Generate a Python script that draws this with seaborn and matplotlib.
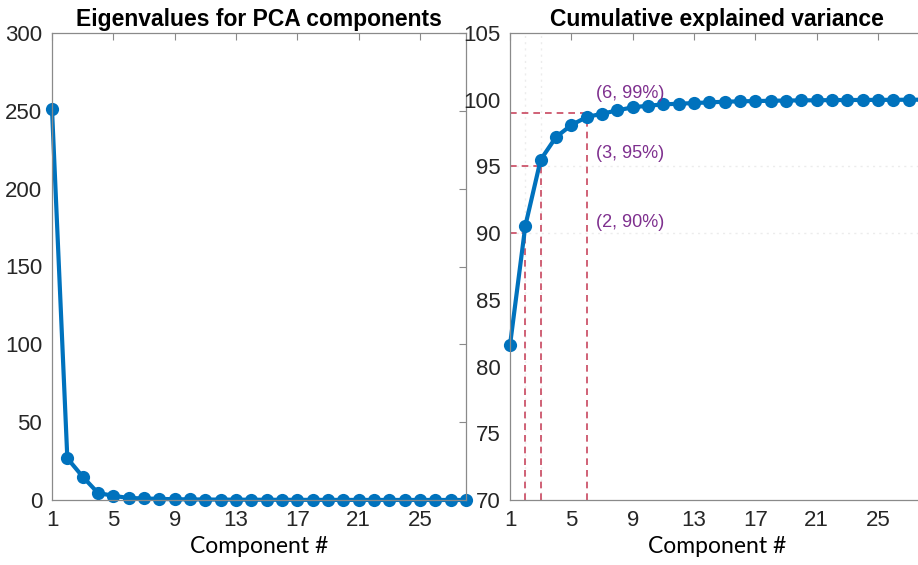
import numpy as np
import pandas as pd
import matplotlib
matplotlib.use("Agg")
import matplotlib.pyplot as plt
import seaborn as sns

# PCA results per component
components = list(range(1, 29))
eigenvalues = [251.2, 26.8, 15.0, 4.5, 2.7, 1.3, 1.0, 0.7, 0.5, 0.4,
               0.3, 0.25, 0.2, 0.17, 0.14, 0.12, 0.1, 0.08, 0.07, 0.06,
               0.05, 0.04, 0.03, 0.03, 0.02, 0.02, 0.01, 0.01]
cumulative = [81.6, 90.55, 95.5, 97.2, 98.1, 98.7, 98.95, 99.2, 99.43, 99.55,
              99.65, 99.7, 99.75, 99.8, 99.85, 99.88, 99.9, 99.92, 99.94, 99.95,
              99.96, 99.97, 99.98, 99.98, 99.99, 99.99, 100.0, 100.0]

# variance thresholds and the component where each is reached
thresholds = [90, 95, 99]
threshold_components = [2, 3, 6]
threshold_labels = ["(2, 90%)", "(3, 95%)", "(6, 99%)"]
label_y = [90.8, 96.0, 100.5]

xticks = [1, 5, 9, 13, 17, 21, 25]

df = pd.DataFrame({"component": components,
                   "eigenvalue": eigenvalues,
                   "cumulative": cumulative})

sns.set_theme(style="white")
plt.rcParams["font.family"] = ["Liberation Sans", "DejaVu Sans"]

BLUE = "#0072BD"
RED = "#C8475F"
PURPLE = "#7E2F8E"
SPINE = "#8a8a8a"
TXT = "#262626"

fig = plt.figure(figsize=(9.18, 5.65), dpi=100)
ax1 = fig.add_axes([52 / 918, 65 / 565, 414 / 918, 467 / 565])
ax2 = fig.add_axes([510 / 918, 65 / 565, 414 / 918, 467 / 565])

line_kw = dict(color=BLUE, linewidth=3.0, marker="o", markersize=9.5,
               markeredgewidth=0, markerfacecolor=BLUE)

sns.lineplot(data=df, x="component", y="eigenvalue", ax=ax1, **line_kw)
sns.lineplot(data=df, x="component", y="cumulative", ax=ax2, **line_kw)

ax1.set_xlim(1, 28)
ax1.set_ylim(0, 300)
ax1.set_yticks(np.arange(0, 301, 50))
ax2.set_xlim(1, 28)
ax2.set_ylim(70, 105)
ax2.set_yticks(np.arange(70, 106, 5))

# faint guide lines
for v in [90, 95]:
    ax2.axhline(v, color="#ececec", linestyle=(0, (1.5, 3)), linewidth=1.0, zorder=0)
for c in [2, 3]:
    ax2.axvline(c, color="#ececec", linestyle=(0, (1.5, 3)), linewidth=1.0, zorder=0)

# threshold markers
for thr, comp in zip(thresholds, threshold_components):
    ax2.plot([1, comp], [thr, thr], color=RED, linestyle=(0, (4, 3)), linewidth=1.2, zorder=1)
    ax2.plot([comp, comp], [70, thr], color=RED, linestyle=(0, (4, 3)), linewidth=1.2, zorder=1)
for lab, ly in zip(threshold_labels, label_y):
    ax2.text(6.6, ly, lab, color=PURPLE, fontsize=13, va="center", ha="left")

titles = ["Eigenvalues for PCA components", "Cumulative explained variance"]
for ax, title in zip([ax1, ax2], titles):
    ax.set_xticks(xticks)
    ax.set_title(title, fontsize=16.5, fontweight="bold", color="black", pad=5)
    ax.set_xlabel("Component #", fontsize=16.5, family=["Lato", "DejaVu Sans"],
                  color="black", labelpad=4)
    ax.set_ylabel("")
    ax.tick_params(axis="both", direction="in", length=5, width=0.8,
                   color=SPINE, labelsize=16, labelcolor=TXT,
                   top=True, right=True, pad=7)
    for sp in ax.spines.values():
        sp.set_color(SPINE)
        sp.set_linewidth(0.9)
    for ln in ax.lines:
        ln.set_clip_on(False)

ax2.tick_params(axis="y", right=False)

fig.savefig("out.png", dpi=100)
